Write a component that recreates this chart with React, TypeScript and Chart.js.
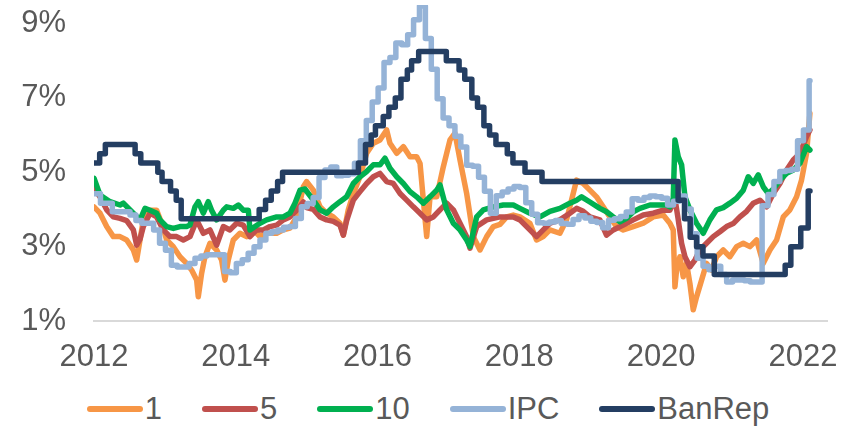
import React, { useEffect, useRef } from 'react';
import { Chart, registerables } from 'chart.js';

Chart.register(...registerables);

const SERIES_NAMES = ['1', '5', '10', 'IPC', 'BanRep'];
const SERIES_COLORS = ['#F79646', '#C0504D', '#00B050', '#95B3D7', '#243E62'];
const X_TICKS = [2012, 2014, 2016, 2018, 2020, 2022];
const Y_TICKS = [1, 3, 5, 7, 9];

// 1-year yield
const Y1_DATES = [2012.000, 2012.085, 2012.179, 2012.273, 2012.367, 2012.461, 2012.555, 2012.602, 2012.649, 2012.696, 2012.790, 2012.884, 2012.955, 2013.025, 2013.119, 2013.213, 2013.307, 2013.377, 2013.448, 2013.471, 2013.518, 2013.565, 2013.636, 2013.730, 2013.800, 2013.847, 2013.894, 2013.965, 2014.059, 2014.153, 2014.247, 2014.341, 2014.435, 2014.577, 2014.670, 2014.764, 2014.858, 2014.953, 2015.000, 2015.094, 2015.188, 2015.282, 2015.376, 2015.470, 2015.517, 2015.587, 2015.658, 2015.752, 2015.846, 2015.940, 2016.034, 2016.128, 2016.175, 2016.270, 2016.364, 2016.458, 2016.552, 2016.599, 2016.646, 2016.693, 2016.740, 2016.834, 2016.928, 2017.022, 2017.092, 2017.163, 2017.257, 2017.351, 2017.445, 2017.539, 2017.633, 2017.727, 2017.821, 2017.915, 2018.008, 2018.149, 2018.243, 2018.337, 2018.431, 2018.572, 2018.666, 2018.760, 2018.807, 2018.901, 2018.995, 2019.089, 2019.183, 2019.277, 2019.371, 2019.466, 2019.607, 2019.748, 2019.889, 2020.030, 2020.124, 2020.171, 2020.195, 2020.218, 2020.265, 2020.312, 2020.359, 2020.406, 2020.453, 2020.500, 2020.571, 2020.641, 2020.712, 2020.782, 2020.876, 2020.970, 2021.064, 2021.159, 2021.253, 2021.347, 2021.441, 2021.535, 2021.629, 2021.723, 2021.817, 2021.911, 2021.981, 2022.052, 2022.099];
const Y1_VALUES = [4.07, 3.90, 3.54, 3.27, 3.27, 3.18, 2.91, 2.64, 3.18, 3.72, 3.98, 3.98, 3.63, 3.18, 3.00, 2.73, 2.55, 2.37, 2.10, 1.65, 2.28, 2.73, 3.09, 2.91, 2.64, 2.10, 2.64, 3.18, 3.36, 3.27, 3.45, 3.27, 3.36, 3.36, 3.45, 3.50, 3.80, 4.61, 4.75, 4.52, 4.07, 3.90, 3.80, 3.63, 3.31, 3.99, 4.43, 4.88, 5.51, 5.78, 5.87, 6.14, 5.78, 5.51, 5.69, 5.42, 5.42, 5.24, 4.25, 3.27, 4.34, 4.34, 5.15, 5.87, 6.05, 5.33, 4.43, 3.27, 2.91, 3.27, 3.54, 3.60, 3.80, 3.85, 3.80, 3.63, 3.18, 3.27, 3.45, 3.36, 3.72, 4.43, 4.79, 4.70, 4.52, 4.34, 4.07, 3.80, 3.54, 3.45, 3.54, 3.63, 3.80, 3.85, 3.63, 3.45, 1.92, 2.37, 2.73, 2.19, 2.55, 2.01, 1.30, 1.65, 2.10, 2.55, 2.37, 2.73, 2.91, 2.73, 3.00, 3.09, 3.00, 3.18, 2.55, 2.91, 3.18, 3.80, 3.99, 4.34, 4.79, 5.51, 6.59];

// 5-year yield
const Y5_DATES = [2012.000, 2012.085, 2012.179, 2012.273, 2012.367, 2012.461, 2012.555, 2012.602, 2012.649, 2012.696, 2012.790, 2012.884, 2012.978, 2013.072, 2013.166, 2013.260, 2013.354, 2013.448, 2013.542, 2013.636, 2013.730, 2013.824, 2013.918, 2014.012, 2014.106, 2014.200, 2014.294, 2014.388, 2014.482, 2014.577, 2014.670, 2014.764, 2014.858, 2014.953, 2015.000, 2015.094, 2015.188, 2015.282, 2015.376, 2015.470, 2015.517, 2015.564, 2015.658, 2015.752, 2015.846, 2015.940, 2016.034, 2016.128, 2016.222, 2016.317, 2016.411, 2016.505, 2016.599, 2016.693, 2016.787, 2016.881, 2016.975, 2017.069, 2017.163, 2017.257, 2017.304, 2017.398, 2017.539, 2017.727, 2017.915, 2018.008, 2018.149, 2018.243, 2018.337, 2018.431, 2018.572, 2018.713, 2018.807, 2018.901, 2018.995, 2019.136, 2019.230, 2019.325, 2019.466, 2019.607, 2019.748, 2019.889, 2020.030, 2020.124, 2020.195, 2020.242, 2020.289, 2020.336, 2020.406, 2020.477, 2020.547, 2020.641, 2020.735, 2020.829, 2020.923, 2021.017, 2021.111, 2021.206, 2021.300, 2021.394, 2021.488, 2021.582, 2021.676, 2021.770, 2021.864, 2021.958, 2022.052, 2022.099];
const Y5_VALUES = [4.57, 4.34, 3.99, 3.80, 3.76, 3.70, 3.45, 3.04, 3.20, 3.54, 3.90, 3.80, 3.45, 3.27, 3.27, 3.18, 3.27, 3.72, 3.36, 3.45, 3.04, 3.54, 3.45, 3.63, 3.58, 3.27, 3.45, 3.45, 3.54, 3.58, 3.72, 3.80, 3.98, 4.20, 4.05, 4.00, 3.80, 3.72, 3.68, 3.58, 3.31, 3.70, 4.25, 4.48, 4.70, 4.88, 4.97, 4.75, 4.70, 4.43, 4.25, 4.07, 3.90, 3.72, 3.80, 3.99, 4.17, 3.99, 3.63, 3.27, 2.96, 3.54, 3.72, 3.80, 3.80, 3.72, 3.45, 3.27, 3.45, 3.63, 3.72, 3.90, 4.03, 3.95, 3.80, 3.72, 3.31, 3.45, 3.58, 3.72, 3.85, 3.90, 3.98, 3.98, 4.30, 3.72, 3.09, 2.73, 2.46, 2.64, 2.91, 3.09, 3.27, 3.40, 3.54, 3.62, 3.80, 3.95, 4.17, 4.25, 4.07, 4.43, 4.70, 5.06, 5.33, 5.51, 5.96, 6.14];

// 10-year yield
const Y10_DATES = [2012.000, 2012.085, 2012.226, 2012.367, 2012.414, 2012.555, 2012.649, 2012.720, 2012.790, 2012.884, 2012.931, 2013.025, 2013.119, 2013.213, 2013.307, 2013.354, 2013.424, 2013.471, 2013.542, 2013.612, 2013.659, 2013.730, 2013.824, 2013.871, 2013.965, 2014.036, 2014.106, 2014.177, 2014.200, 2014.271, 2014.341, 2014.435, 2014.506, 2014.577, 2014.670, 2014.764, 2014.835, 2014.906, 2014.976, 2015.094, 2015.188, 2015.282, 2015.376, 2015.470, 2015.564, 2015.658, 2015.752, 2015.846, 2015.940, 2016.034, 2016.105, 2016.175, 2016.270, 2016.364, 2016.458, 2016.552, 2016.646, 2016.740, 2016.834, 2016.881, 2016.975, 2017.069, 2017.163, 2017.257, 2017.304, 2017.398, 2017.492, 2017.633, 2017.774, 2017.915, 2018.008, 2018.149, 2018.290, 2018.431, 2018.572, 2018.713, 2018.807, 2018.878, 2018.995, 2019.136, 2019.230, 2019.325, 2019.419, 2019.513, 2019.607, 2019.701, 2019.842, 2019.983, 2020.077, 2020.124, 2020.171, 2020.195, 2020.242, 2020.289, 2020.336, 2020.406, 2020.500, 2020.594, 2020.688, 2020.782, 2020.876, 2020.970, 2021.064, 2021.159, 2021.229, 2021.300, 2021.370, 2021.441, 2021.511, 2021.582, 2021.676, 2021.770, 2021.864, 2021.958, 2022.052, 2022.099];
const Y10_VALUES = [4.84, 4.39, 4.21, 4.12, 4.17, 3.90, 3.72, 4.03, 3.98, 3.90, 3.72, 3.54, 3.49, 3.54, 3.54, 3.58, 4.07, 4.21, 3.90, 4.21, 3.98, 3.72, 3.98, 4.07, 4.03, 4.12, 3.98, 3.98, 3.45, 3.54, 3.63, 3.72, 3.76, 3.80, 3.80, 3.90, 4.17, 4.52, 4.55, 4.25, 3.99, 3.90, 4.07, 4.21, 4.34, 4.70, 4.88, 5.02, 5.20, 5.20, 5.38, 5.11, 4.88, 4.70, 4.48, 4.34, 4.17, 4.34, 4.52, 4.66, 3.99, 3.63, 3.45, 3.18, 3.00, 3.80, 3.99, 4.07, 4.12, 4.12, 4.03, 3.90, 3.80, 3.95, 4.03, 4.17, 4.25, 4.34, 4.20, 4.03, 3.94, 3.80, 3.67, 3.76, 3.94, 4.03, 4.12, 4.12, 4.12, 4.07, 4.30, 5.87, 5.42, 5.20, 4.34, 3.99, 3.63, 3.36, 3.72, 3.99, 4.05, 4.17, 4.30, 4.52, 4.88, 4.70, 4.93, 4.61, 4.43, 4.55, 4.79, 4.97, 5.06, 5.24, 5.69, 5.60];

// IPC (monthly, Dec 2011 .. Jan 2022), shown from its release date
const IPC_VALUES = [
  4.42,
  4.17, 4.17, 3.94, 3.94, 3.94, 3.85, 3.70, 3.63, 3.63, 3.45, 3.09, 2.90,
  2.50, 2.45, 2.45, 2.55, 2.69, 2.75, 2.78, 2.78, 2.78, 2.33, 2.30, 2.55,
  2.65, 2.82, 3.00, 3.18, 3.36, 3.40, 3.45, 3.52, 3.54, 3.76, 4.07, 4.16,
  4.32, 4.86, 5.06, 5.14, 4.91, 4.92, 4.96, 5.24, 5.85, 6.39, 6.89, 7.27,
  7.95, 8.09, 8.48, 8.43, 8.70, 9.10, 9.47, 8.60, 7.77, 6.98, 6.46, 6.25,
  5.97, 5.68, 5.19, 5.16, 4.87, 4.49, 3.90, 4.37, 4.47, 4.55, 4.62, 4.59,
  4.18, 3.87, 3.64, 3.63, 3.66, 3.70, 3.62, 3.60, 3.73, 3.83, 3.77, 3.68,
  3.65, 3.51, 3.71, 3.75, 3.81, 3.93, 4.29, 4.25, 4.32, 4.36, 4.34, 4.30,
  4.12, 4.22, 4.36, 4.01, 3.35, 2.69, 2.47, 2.38, 2.47, 2.25, 2.05, 2.10,
  2.10, 2.08, 2.05, 2.05, 4.10, 4.40, 4.75, 5.02, 5.05, 5.08, 5.85, 6.14,
  7.46,
];
const IPC_START = 2012;
const IPC_RELEASE_LAG = 0.008;
const SERIES_END = 2022.1;

// BanRep policy rate (step changes)
const BR_DATES = [2012.0, 2012.08, 2012.16, 2012.58, 2012.66, 2012.9, 2012.96, 2013.08, 2013.16, 2013.23, 2014.33, 2014.42, 2014.5, 2014.59, 2014.66, 2015.73, 2015.83, 2015.91, 2015.97, 2016.08, 2016.16, 2016.25, 2016.33, 2016.42, 2016.48, 2016.58, 2016.97, 2017.15, 2017.23, 2017.33, 2017.41, 2017.5, 2017.58, 2017.67, 2017.83, 2017.91, 2018.08, 2018.32, 2020.24, 2020.33, 2020.41, 2020.5, 2020.59, 2020.75, 2021.75, 2021.83, 2021.97, 2022.075, 2022.1];
const BR_VALUES = [5.25, 5.5, 5.75, 5.5, 5.25, 5.0, 4.75, 4.5, 4.25, 3.75, 4.0, 4.25, 4.5, 4.75, 5.0, 5.25, 5.75, 6.0, 6.25, 6.5, 6.75, 7.0, 7.5, 7.75, 8.0, 8.25, 8.0, 7.75, 7.5, 7.0, 6.75, 6.25, 6.0, 5.75, 5.5, 5.25, 5.0, 4.75, 4.25, 3.75, 3.25, 3.0, 2.75, 2.25, 2.5, 3.0, 3.5, 4.5, 4.5];

const FONT = "'Liberation Sans', Arial, sans-serif";
const TEXT_COLOR = '#595959';

function zip(dates: number[], values: number[]) {
  return dates.map((d, i) => ({ x: d, y: values[i] }));
}

function ipcPoints() {
  const pts = IPC_VALUES.map((v, i) => ({ x: i === 0 ? IPC_START : IPC_START + i / 12 + IPC_RELEASE_LAG, y: v }));
  const last = pts[pts.length - 1];
  if (last.x > SERIES_END - 0.01) last.x = SERIES_END - 0.012;
  pts.push({ x: SERIES_END, y: last.y });
  return pts;
}

export default function App() {
  const ref = useRef<HTMLCanvasElement | null>(null);

  useEffect(() => {
    if (!ref.current) return;
    const common = { pointRadius: 0, borderWidth: 5.5, tension: 0, borderJoinStyle: 'round' as const, borderCapStyle: 'round' as const, fill: false };
    const chart = new Chart(ref.current, {
      type: 'line',
      data: {
        datasets: [
          { ...common, label: SERIES_NAMES[0], data: zip(Y1_DATES, Y1_VALUES), borderColor: SERIES_COLORS[0], order: 5 },
          { ...common, label: SERIES_NAMES[1], data: zip(Y5_DATES, Y5_VALUES), borderColor: SERIES_COLORS[1], order: 4 },
          { ...common, label: SERIES_NAMES[2], data: zip(Y10_DATES, Y10_VALUES), borderColor: SERIES_COLORS[2], order: 3 },
          { ...common, label: SERIES_NAMES[3], data: ipcPoints(), borderColor: SERIES_COLORS[3], stepped: 'before', order: 2 },
          { ...common, label: SERIES_NAMES[4], data: zip(BR_DATES, BR_VALUES), borderColor: SERIES_COLORS[4], stepped: 'before', order: 1 },
        ],
      },
      options: {
        animation: false,
        responsive: false,
        maintainAspectRatio: false,
        layout: { padding: { top: 5, right: 29, left: 0, bottom: 0 } },
        plugins: { legend: { display: false }, tooltip: { enabled: false } },
        scales: {
          x: {
            type: 'linear',
            min: 2012,
            max: 2022.34,
            grid: { display: false, drawTicks: false },
            border: { display: true, color: '#D9D9D9', width: 2 },
            ticks: {
              color: TEXT_COLOR,
              font: { family: FONT, size: 31 },
              padding: 18,
              maxRotation: 0,
              autoSkip: false,
              callback: (v: any) => String(v),
            },
            afterBuildTicks: (s: any) => { s.ticks = X_TICKS.map((v) => ({ value: v })); },
            afterFit: (s: any) => { s.height = 64; s.paddingLeft = 0; s.paddingRight = 0; },
          },
          y: {
            min: 1,
            max: 9.5,
            grid: { display: false, drawTicks: false },
            border: { display: false },
            ticks: {
              color: TEXT_COLOR,
              font: { family: FONT, size: 31 },
              padding: 28,
              autoSkip: false,
              callback: (v: any) => v + '%',
            },
            afterBuildTicks: (s: any) => { s.ticks = Y_TICKS.map((v) => ({ value: v })); },
            afterFit: (s: any) => { s.width = 94; s.paddingTop = 0; s.paddingBottom = 0; },
          },
        },
      },
    });
    return () => chart.destroy();
  }, []);

  return (
    <div style={{ position: 'fixed', left: 0, top: 0, width: 856, height: 426, background: '#fff', overflow: 'hidden' }}>
      <canvas ref={ref} width={856} height={385} style={{ position: 'absolute', left: 0, top: 0, width: 856, height: 385 }} />
      <div
        style={{
          position: 'absolute', left: 0, top: 391, width: 856, height: 36,
          display: 'flex', justifyContent: 'center', alignItems: 'center',
          fontFamily: FONT, fontSize: 31, lineHeight: '36px', color: TEXT_COLOR,
        }}
      >
        {SERIES_NAMES.map((name, i) => (
          <div key={name} style={{ display: 'flex', alignItems: 'center', marginRight: i < SERIES_NAMES.length - 1 ? 40 : 0 }}>
            <span style={{ display: 'inline-block', width: 56, height: 5.5, borderRadius: 3, background: SERIES_COLORS[i] }} />
            <span style={{ marginLeft: 2, whiteSpace: 'nowrap' }}>{name}</span>
          </div>
        ))}
      </div>
    </div>
  );
}
